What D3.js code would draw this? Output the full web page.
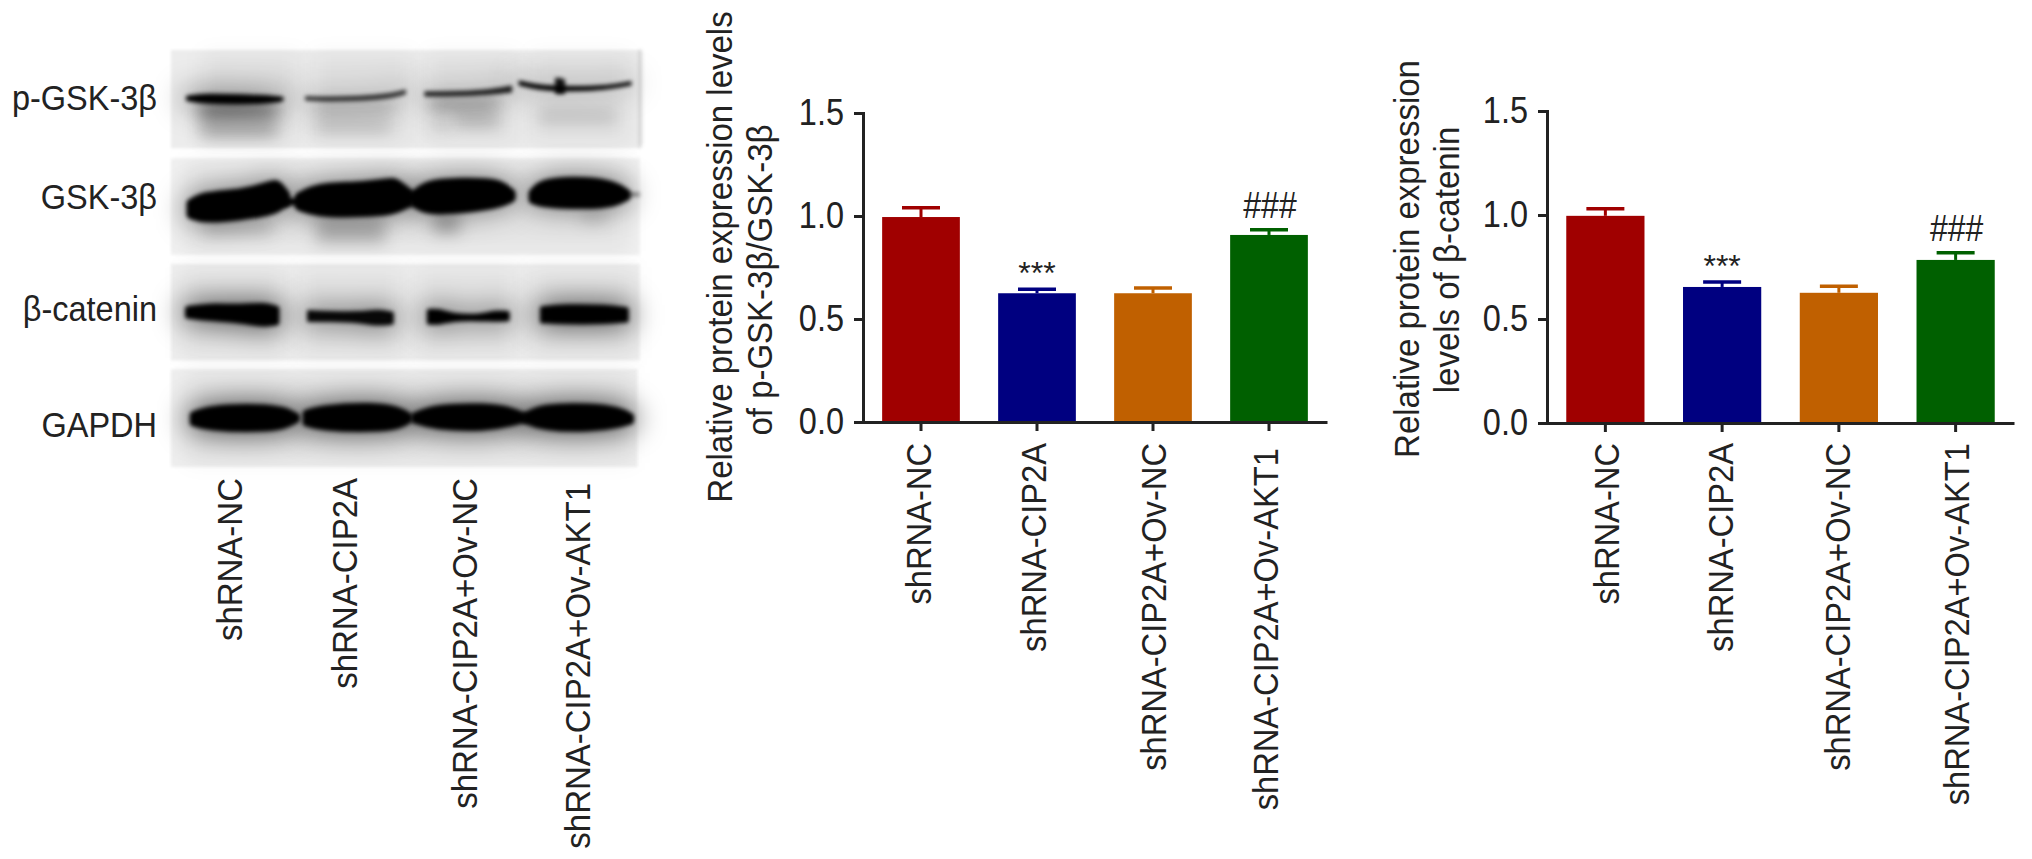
<!DOCTYPE html>
<html>
<head>
<meta charset="UTF-8">
<title>p-GSK-3b and b-catenin</title>
<script src="https://cdn.jsdelivr.net/npm/d3@7/dist/d3.min.js"></script>
<style>
html, body { margin: 0; padding: 0; background: #fff; }
svg { display: block; }
text { font-family: "Liberation Sans", Arial, Helvetica, sans-serif; fill: #222; }
.axis path, .axis line { stroke: #222; stroke-width: 3; }
.axis text { font-size: 32.5px; font-family: "Liberation Sans", Arial, sans-serif; fill: #222; }
</style>
</head>
<body>
<div id="chart"></div>
<script>
const groups = ["shRNA-NC", "shRNA-CIP2A", "shRNA-CIP2A+Ov-NC", "shRNA-CIP2A+Ov-AKT1"];
const barColors = ["#a00000", "#000080", "#c06000", "#006000"];
const yTicks = [0, 0.5, 1.0, 1.5];
const marks = ["", "***", "", "###"];

const gskMeans = [0.995, 0.625, 0.625, 0.908];
const gskUpper = [1.04, 0.645, 0.65, 0.933];
const catMeans = [0.996, 0.654, 0.626, 0.784];
const catUpper = [1.03, 0.678, 0.658, 0.818];

const gskTitle = ["Relative protein expression levels", "of p-GSK-3\u03b2/GSK-3\u03b2"];
const catTitle = ["Relative protein expression", "levels of \u03b2-catenin"];

const blotLabels = ["p-GSK-3\u03b2", "GSK-3\u03b2", "\u03b2-catenin", "GAPDH"];

// blot is a photo, so it is traced: [x, top, bottom] in blot units
const blotPanels = [
	{ x0: 395, x1: 1478, y0: 60, y1: 355, grey: "#ececec" },
	{ x0: 395, x1: 1475, y0: 385, y1: 675, grey: "#f0f0f0" },
	{ x0: 395, x1: 1475, y0: 702, y1: 992, grey: "#eeeeee" },
	{ x0: 395, x1: 1470, y0: 1018, y1: 1312, grey: "#eeeeee" }
];
const blotWash = [
	[[470, 70, 340], [690, 70, 340]], [[725, 70, 340], [950, 70, 340]],
	[[985, 70, 340], [1190, 70, 340]], [[1225, 70, 340], [1450, 70, 340]],
	[[430, 395, 665], [1450, 395, 665]],
	[[420, 712, 985], [660, 712, 985]], [[690, 712, 985], [930, 712, 985]],
	[[960, 712, 985], [1190, 712, 985]], [[1220, 712, 985], [1465, 712, 985]],
	[[430, 1030, 1300], [1460, 1030, 1300]]
];
const blotFaint = [
	[[460, 225, 262], [550, 222, 262], [640, 228, 258], 0.55],
	[[460, 278, 318], [550, 275, 322], [640, 278, 318], 0.3],
	[[725, 218, 254], [820, 218, 254], [910, 218, 248], 0.22],
	[[725, 272, 308], [810, 272, 308], [900, 272, 308], 0.18],
	[[990, 202, 244], [1070, 202, 244], [1150, 202, 238], 0.3],
	[[1050, 255, 288], [1100, 255, 288], [1150, 255, 288], 0.26],
	[[990, 272, 298], [1015, 272, 298], [1040, 272, 298], 0.16],
	[[1240, 242, 278], [1330, 242, 278], [1420, 242, 278], 0.16],
	[[470, 575, 615], [550, 575, 615], [630, 575, 615], 0.16],
	[[730, 560, 640], [810, 560, 640], [890, 560, 640], 0.22],
	[[1000, 550, 610], [1030, 550, 610], [1060, 550, 610], 0.28],
	[[1340, 540, 580], [1370, 540, 580], [1400, 540, 580], 0.14]
];
const blotBands = [
	// p-GSK-3b
	{ o: 1, halo: 0.3, s: 2, pts: [[432, 200, 210], [470, 193, 220], [560, 196, 222], [640, 200, 216], [652, 204, 210]] },
	{ o: 0.75, halo: 0.15, s: 1, pts: [[705, 200, 210], [750, 202, 214], [830, 200, 212], [900, 192, 205], [935, 180, 192]] },
	{ o: 0.85, halo: 0.15, s: 1, pts: [[980, 186, 198], [1050, 186, 198], [1120, 182, 194], [1180, 168, 186]] },
	{ o: 1, halo: 0.15, s: 1, pts: [[1197, 153, 165], [1250, 168, 182], [1330, 170, 184], [1400, 168, 178], [1455, 155, 165]] },
	{ o: 0.9, halo: 0, s: 1, pts: [[1281, 145, 190], [1292, 145, 192], [1302, 150, 190]] },
	{ o: 0.5, halo: 0, s: 0, pts: [[1476, 60, 350], [1478, 60, 350]] },
	// GSK-3b
	{ o: 1, halo: 0.35, s: 8, pts: [[440, 520, 555], [470, 495, 570], [560, 490, 560], [625, 465, 545], [640, 458, 535], [660, 495, 520]] },
	{ o: 1, halo: 0, s: 2, pts: [[655, 505, 525], [675, 510, 522], [695, 505, 525]] },
	{ o: 1, halo: 0.35, s: 8, pts: [[690, 500, 530], [730, 470, 550], [820, 468, 552], [895, 458, 545], [910, 452, 540], [945, 490, 520]] },
	{ o: 1, halo: 0, s: 2, pts: [[940, 490, 515], [952, 495, 512], [965, 490, 515]] },
	{ o: 1, halo: 0.35, s: 8, pts: [[955, 495, 520], [985, 460, 545], [1060, 455, 540], [1150, 455, 525], [1180, 490, 505]] },
	{ o: 1, halo: 0.35, s: 8, pts: [[1228, 490, 510], [1250, 455, 522], [1350, 450, 528], [1420, 465, 520], [1445, 490, 500]] },
	{ o: 0.45, halo: 0, s: 0, pts: [[1445, 488, 500], [1460, 488, 500], [1475, 488, 500]] },
	// b-catenin
	{ o: 1, halo: 0.45, s: 4, pts: [[432, 835, 860], [480, 825, 868], [560, 830, 875], [610, 822, 888], [640, 835, 880]] },
	{ o: 0.95, halo: 0.35, s: 3, pts: [[712, 845, 872], [760, 848, 872], [830, 850, 875], [870, 842, 885], [905, 850, 880]] },
	{ o: 1, halo: 0.35, s: 3, pts: [[988, 842, 880], [1015, 840, 882], [1040, 855, 870], [1110, 858, 870], [1140, 845, 872], [1172, 848, 870]] },
	{ o: 1, halo: 0.45, s: 4, pts: [[1250, 835, 875], [1300, 828, 878], [1400, 830, 878], [1445, 838, 872]] },
	// GAPDH
	{ o: 1, halo: 0.5, s: 6, pts: [[445, 1155, 1180], [480, 1135, 1195], [600, 1130, 1200], [660, 1140, 1190], [685, 1160, 1170]] },
	{ o: 1, halo: 0.5, s: 6, pts: [[705, 1150, 1180], [740, 1135, 1195], [860, 1125, 1200], [925, 1140, 1190], [945, 1160, 1170]] },
	{ o: 1, halo: 0.5, s: 6, pts: [[955, 1158, 1172], [1000, 1132, 1192], [1120, 1128, 1198], [1180, 1140, 1180], [1210, 1160, 1170]] },
	{ o: 1, halo: 0.5, s: 6, pts: [[1210, 1158, 1172], [1250, 1130, 1195], [1360, 1128, 1200], [1430, 1140, 1185], [1455, 1160, 1175]] }
];

const width = 2032;
const height = 859;

const svg = d3.select("#chart").append("svg")
	.attr("width", width)
	.attr("height", height)
	.attr("viewBox", "0 0 " + width + " " + height);

const defs = svg.append("defs");
// user space region, a bbox region cuts the blur off on thin bands
[["blur1", 1.4], ["blur2", 2.2], ["blur8", 8], ["blur10", 10], ["blur14", 14]].forEach(function(f) {
	defs.append("filter")
		.attr("id", f[0])
		.attr("filterUnits", "userSpaceOnUse")
		.attr("x", 0).attr("y", 0)
		.attr("width", 700).attr("height", 500)
		.append("feGaussianBlur").attr("stdDeviation", f[1]);
});

// ---- western blot ----
const blotX = d3.scaleLinear().domain([395, 1478]).range([171, 641]);
const blotY = d3.scaleLinear().domain([60, 1312]).range([50, 467]);

const bandArea = d3.area()
	.x(function(d) { return blotX(d[0]); })
	.y0(function(d) { return blotY(d[1]); })
	.y1(function(d) { return blotY(d[2]); })
	.curve(d3.curveBasis);

const blot = svg.append("g").attr("class", "blot");

blot.selectAll("rect.panel")
	.data(blotPanels)
	.enter()
	.append("rect")
		.attr("class", "panel")
		.attr("x", function(d) { return blotX(d.x0); })
		.attr("y", function(d) { return blotY(d.y0); })
		.attr("width", function(d) { return blotX(d.x1) - blotX(d.x0); })
		.attr("height", function(d) { return blotY(d.y1) - blotY(d.y0); })
		.attr("fill", function(d) { return d.grey; })
		.attr("filter", "url(#blur1)");

blot.selectAll("path.wash")
	.data(blotWash)
	.enter()
	.append("path")
		.attr("class", "wash")
		.attr("d", bandArea)
		.attr("fill", "#000")
		.attr("fill-opacity", 0.05)
		.attr("filter", "url(#blur10)");

blot.selectAll("path.faint")
	.data(blotFaint)
	.enter()
	.append("path")
		.attr("class", "faint")
		.attr("d", function(d) { return bandArea(d.slice(0, 3)); })
		.attr("fill", "#000")
		.attr("fill-opacity", function(d) { return d[3]; })
		.attr("filter", "url(#blur8)");

blot.selectAll("path.halo")
	.data(blotBands.filter(function(d) { return d.halo > 0; }))
	.enter()
	.append("path")
		.attr("class", "halo")
		.attr("d", function(d) { return bandArea(d.pts); })
		.attr("fill", "#000")
		.attr("fill-opacity", function(d) { return d.halo; })
		.attr("stroke", "#000")
		.attr("stroke-width", 14)
		.attr("stroke-opacity", function(d) { return d.halo; })
		.attr("filter", "url(#blur14)");

blot.selectAll("path.band")
	.data(blotBands)
	.enter()
	.append("path")
		.attr("class", "band")
		.attr("d", function(d) { return bandArea(d.pts); })
		.attr("fill", "#060606")
		.attr("fill-opacity", function(d) { return d.o; })
		.attr("stroke", "#060606")
		.attr("stroke-opacity", function(d) { return d.o; })
		.attr("stroke-width", function(d) { return d.s; })
		.attr("stroke-linejoin", "round")
		.attr("filter", "url(#blur2)");

const blotLabelY = [110, 209, 321, 437];
blot.selectAll("text.row")
	.data(blotLabels)
	.enter()
	.append("text")
		.attr("class", "row")
		.attr("text-anchor", "end")
		.attr("font-size", 32.5)
		.attr("transform", function(d, i) { return "translate(157," + blotLabelY[i] + ") scale(1,1.1)"; })
		.text(function(d) { return d; });

// lane names under the blot
const laneBase = [242, 357, 477, 590];
const laneTop = [478, 478, 478, 483];
blot.selectAll("text.lane")
	.data(groups)
	.enter()
	.append("text")
		.attr("class", "lane")
		.attr("text-anchor", "end")
		.attr("font-size", 33)
		.attr("transform", function(d, i) { return "translate(" + laneBase[i] + "," + laneTop[i] + ") rotate(-90) scale(1,1.08)"; })
		.text(function(d) { return d; });

// ---- bar panels ----
function drawBars(o) {
	const g = svg.append("g").attr("class", "bars");

	const x = d3.scaleBand()
		.domain(groups)
		.range(o.xRange)
		.paddingInner(0.33)
		.paddingOuter(0.165);

	const y = d3.scaleLinear().domain([0, 1.5]).range(o.yRange);

	const rows = groups.map(function(name, i) {
		return { name: name, mean: o.means[i], upper: o.upper[i], color: barColors[i], mark: marks[i] };
	});

	// error bars go first, the bar covers the lower half
	g.selectAll("line.stem")
		.data(rows)
		.enter()
		.append("line")
			.attr("class", "stem")
			.attr("x1", function(d) { return x(d.name) + x.bandwidth() / 2; })
			.attr("x2", function(d) { return x(d.name) + x.bandwidth() / 2; })
			.attr("y1", function(d) { return y(d.mean); })
			.attr("y2", function(d) { return y(d.upper); })
			.attr("stroke", function(d) { return d.color; })
			.attr("stroke-width", 3);

	g.selectAll("line.cap")
		.data(rows)
		.enter()
		.append("line")
			.attr("class", "cap")
			.attr("x1", function(d) { return x(d.name) + x.bandwidth() / 2 - 19; })
			.attr("x2", function(d) { return x(d.name) + x.bandwidth() / 2 + 19; })
			.attr("y1", function(d) { return y(d.upper); })
			.attr("y2", function(d) { return y(d.upper); })
			.attr("stroke", function(d) { return d.color; })
			.attr("stroke-width", 3.5);

	g.selectAll("rect.bar")
		.data(rows)
		.enter()
		.append("rect")
			.attr("class", "bar")
			.attr("x", function(d) { return x(d.name); })
			.attr("y", function(d) { return y(d.mean); })
			.attr("width", x.bandwidth())
			.attr("height", function(d) { return y(0) - y(d.mean); })
			.attr("fill", function(d) { return d.color; });

	g.selectAll("text.mark")
		.data(rows.filter(function(d) { return d.mark; }))
		.enter()
		.append("text")
			.attr("class", "mark")
			.attr("text-anchor", "middle")
			.attr("font-size", 32)
			.attr("transform", function(d) {
				const hash = d.mark == "###";
				return "translate(" + (x(d.name) + x.bandwidth() / 2 + (hash ? 1 : 0)) + "," + (y(d.upper) - (hash ? 12 : 5)) + ") scale(1," + (hash ? 1.15 : 1) + ")";
			})
			.text(function(d) { return d.mark; });

	const yAxis = d3.axisLeft(y)
		.tickValues(yTicks)
		.tickFormat(d3.format(".1f"))
		.tickSize(9)
		.tickPadding(10);

	g.append("g")
		.attr("class", "axis")
		.attr("transform", "translate(" + o.xRange[0] + ",0)")
		.call(yAxis)
		.selectAll("text")
			.attr("transform", "scale(1,1.12)");

	const xAxis = d3.axisBottom(x)
		.tickSize(9)
		.tickSizeOuter(0)
		.tickFormat("");

	g.append("g")
		.attr("class", "axis")
		.attr("transform", "translate(0," + o.yRange[0] + ")")
		.call(xAxis);

	g.selectAll("text.group")
		.data(rows)
		.enter()
		.append("text")
			.attr("class", "group")
			.attr("text-anchor", "end")
			.attr("font-size", 32.7)
			.attr("transform", function(d, i) { return "translate(" + o.labelBase[i] + "," + o.labelTop[i] + ") rotate(-90) scale(1,1.08)"; })
			.text(function(d) { return d.name; });

	g.selectAll("text.title")
		.data(o.title)
		.enter()
		.append("text")
			.attr("class", "title")
			.attr("text-anchor", "middle")
			.attr("font-size", 33)
			.attr("transform", function(d, i) { return "translate(" + o.titleX[i] + "," + o.titleY[i] + ") rotate(-90) scale(1,1.08)"; })
			.text(function(d) { return d; });
}

drawBars({
	means: gskMeans, upper: gskUpper, title: gskTitle,
	xRange: [863, 1327], yRange: [422, 113],
	labelBase: [931, 1046, 1166, 1278], labelTop: [443, 443, 443, 448],
	titleX: [732, 772], titleY: [257, 280]
});

drawBars({
	means: catMeans, upper: catUpper, title: catTitle,
	xRange: [1547, 2014], yRange: [423, 111],
	labelBase: [1619, 1733, 1850, 1969], labelTop: [443, 443, 443, 443],
	titleX: [1419, 1459], titleY: [259, 260]
});
</script>
</body>
</html>
